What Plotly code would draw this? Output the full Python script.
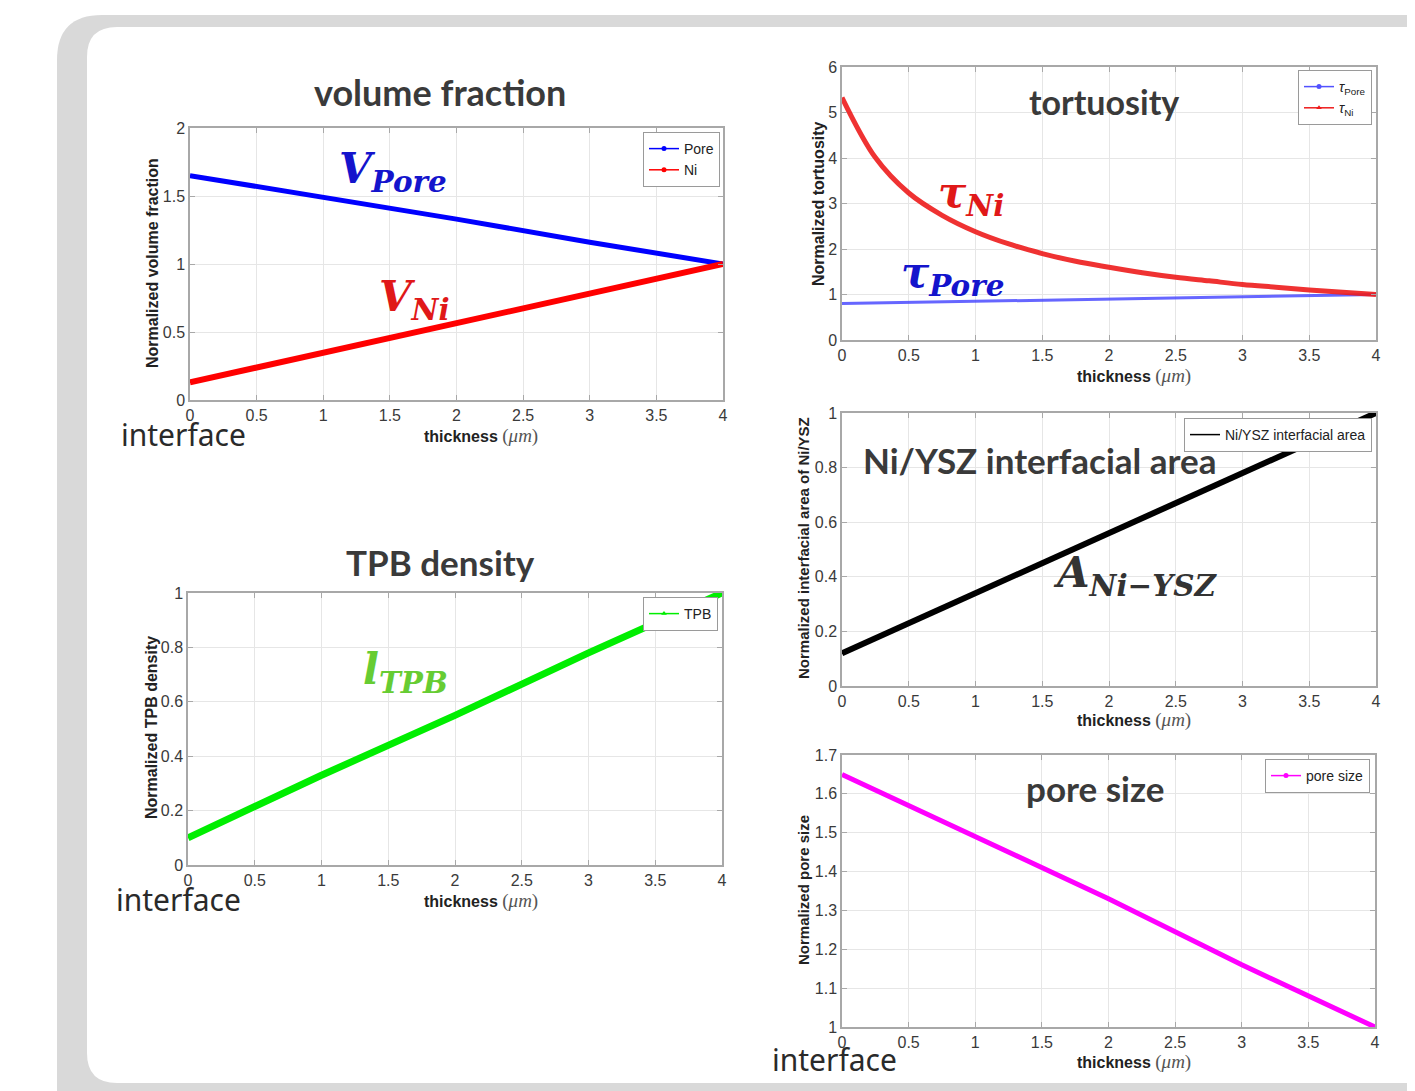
import plotly.graph_objects as go

W, H = 1415, 1091
OFF = 8  # page body margin compensation

# ---------------- data ----------------
x_lin = [0, 1, 2, 3, 4]
vf_pore = [1.65, 1.49, 1.33, 1.16, 1.0]
vf_ni = [0.13, 0.35, 0.57, 0.78, 1.0]

x_tort = [0, 0.25, 0.5, 0.75, 1, 1.25, 1.5, 1.75, 2, 2.25, 2.5, 2.75, 3, 3.25, 3.5, 3.75, 4]
tort_ni = [5.33, 4.01, 3.23, 2.74, 2.38, 2.11, 1.90, 1.73, 1.60, 1.48, 1.38, 1.30, 1.22, 1.16, 1.10, 1.05, 1.00]
tort_pore = [0.80, 0.85, 0.90, 0.95, 1.00]

tpb = [0.10, 0.33, 0.55, 0.78, 1.0]
niysz = [0.12, 0.34, 0.56, 0.78, 1.0]
pore_size = [1.65, 1.49, 1.33, 1.16, 1.0]

x_tickvals = [0, 0.5, 1, 1.5, 2, 2.5, 3, 3.5, 4]
x_ticktext = ["0", "0.5", "1", "1.5", "2", "2.5", "3", "3.5", "4"]
vf_ticks = [0, 0.5, 1, 1.5, 2]
tort_ticks = [0, 1, 2, 3, 4, 5, 6]
unit_ticks = [0, 0.2, 0.4, 0.6, 0.8, 1]
pore_ticks = [1, 1.1, 1.2, 1.3, 1.4, 1.5, 1.6, 1.7]

# ---------------- helpers ----------------
def px(x):
    return (x - OFF) / W

def py(y):
    return 1 - (y - OFF) / H

def rrect(x0, y0, x1, y1, r):
    rx, ry = r / W, r / H
    X0, X1 = px(x0), px(x1)
    Y0, Y1 = py(y0), py(y1)
    return (f"M {X0 + rx},{Y0} L {X1},{Y0} L {X1},{Y1} L {X0 + rx},{Y1} "
            f"Q {X0},{Y1} {X0},{Y1 + ry} L {X0},{Y0 - ry} Q {X0},{Y0} {X0 + rx},{Y0} Z")

def rrect_top(x0, y0, x1, y1, r):
    rx, ry = r / W, r / H
    X0, X1 = px(x0), px(x1)
    Y0, Y1 = py(y0), py(y1)
    return (f"M {X0 + rx},{Y0} L {X1},{Y0} L {X1},{Y1} L {X0},{Y1} "
            f"L {X0},{Y0 - ry} Q {X0},{Y0} {X0 + rx},{Y0} Z")

TICKFONT = dict(family="Liberation Sans, Arial", size=16, color="#3a3a3a")
LINEC = "#a8a8a8"
GRIDC = "#e6e6e6"

fig = go.Figure()

panels = {
    1: (190, 723, 128, 400),
    2: (842, 1376, 67, 340),
    3: (188, 722, 593, 865),
    4: (842, 1376, 413, 686),
    5: (842, 1375, 755, 1027),
}

def ax(i):
    return ("x" if i == 1 else f"x{i}", "y" if i == 1 else f"y{i}")

def add(i, x, y, color, width, name, symbol, legend, opacity=1.0, shape="linear"):
    xa, ya = ax(i)
    fig.add_trace(go.Scatter(
        x=x, y=y, mode="lines", name=name, showlegend=False,
        line=dict(color=color, width=width, shape=shape),
        opacity=opacity, xaxis=xa, yaxis=ya,
    ))
    # legend entry (thin line + marker, MATLAB style)
    fig.add_trace(go.Scatter(
        x=[None], y=[None], mode="lines+markers", name=name, showlegend=True,
        line=dict(color=color, width=1.5),
        marker=dict(color=color, size=5, symbol=symbol),
        opacity=min(1.0, opacity + 0.1), xaxis=xa, yaxis=ya, legend=legend,
    ))

add(1, x_lin, vf_pore, "#0000ff", 5, "Pore", "circle", "legend")
add(1, x_lin, vf_ni, "#ff0000", 6, "Ni", "circle", "legend")
add(2, x_lin, tort_pore, "#4040ff", 3, "<i>τ</i><sub>Pore</sub>", "circle", "legend2", 0.8)
add(2, x_tort, tort_ni, "#ee1c1c", 5, "<i>τ</i><sub>Ni</sub>", "triangle-up", "legend2", 0.9, "spline")
add(3, x_lin, tpb, "#00ee00", 7, "TPB", "triangle-up", "legend3")
add(4, x_lin, niysz, "#000000", 6, "Ni/YSZ interfacial area", "asterisk", "legend4")
add(5, x_lin, pore_size, "#ff00ff", 5, "pore size", "circle", "legend5")

yranges = {1: ([0, 2], vf_ticks), 2: ([0, 6], tort_ticks), 3: ([0, 1], unit_ticks),
           4: ([0, 1], unit_ticks), 5: ([1, 1.7], pore_ticks)}

layout_axes = {}
for i, (l, r, t, b) in panels.items():
    sx = "" if i == 1 else str(i)
    common = dict(
        showgrid=True, gridcolor=GRIDC, gridwidth=1,
        showline=True, linecolor=LINEC, linewidth=1.5, mirror="ticks",
        ticks="inside", ticklen=5, tickcolor=LINEC, zeroline=False,
        tickfont=TICKFONT, fixedrange=True, automargin=False,
    )
    layout_axes[f"xaxis{sx}"] = dict(
        domain=[px(l), px(r)], anchor=f"y{sx}", range=[0, 4],
        tickvals=x_tickvals, ticktext=x_ticktext, **common)
    rng, tv = yranges[i]
    layout_axes[f"yaxis{sx}"] = dict(
        domain=[py(b), py(t)], anchor=f"x{sx}", range=rng,
        tickvals=tv, ticktext=[f"{v:g}" for v in tv], **common)

def legend_cfg(xr, yt):
    return dict(
        x=px(xr), y=py(yt), xanchor="right", yanchor="top",
        bgcolor="white", bordercolor="#9a9a9a", borderwidth=1,
        font=dict(family="Liberation Sans, Arial", size=14, color="#222"),
        itemwidth=30, tracegroupgap=0, traceorder="normal",
    )

annotations = []

def ann(text, x, y, size, color, family, angle=0, **kw):
    annotations.append(dict(
        text=text, x=px(x), y=py(y), xref="paper", yref="paper",
        showarrow=False, xanchor="center", yanchor="middle",
        textangle=angle, font=dict(size=size, color=color, family=family), **kw))

TITLEF = "Lato, Open Sans, sans-serif"
ann("<b>volume fraction</b>", 440, 92, 36, "#3a3a3a", TITLEF)
ann("<b>tortuosity</b>", 1104, 102, 34, "#3a3a3a", TITLEF)
ann("<b>TPB density</b>", 440, 562, 35, "#3a3a3a", TITLEF)
ann("<b>Ni/YSZ interfacial area</b>", 1040, 460, 35, "#3a3a3a", TITLEF)
ann("<b>pore size</b>", 1095, 788, 35, "#3a3a3a", TITLEF)

IF = "Noto Sans, sans-serif"
ann("interface", 183, 434, 30, "#2a2a2a", IF)
ann("interface", 178, 899, 30, "#2a2a2a", IF)
ann("interface", 835, 1059, 30, "#2a2a2a", IF)

XT = ("<b>thickness</b> <span style='font-family:Liberation Serif;color:#555;font-size:19px'>"
      "(<i>μm</i>)</span>")
AXF = "Liberation Sans, Arial"
for (xx, yy) in [(481, 436), (1134, 376), (481, 901), (1134, 720), (1134, 1062)]:
    ann(XT, xx, yy, 16, "#222222", AXF)

ann("<b>Normalized volume fraction</b>", 152, 263, 16, "#222222", AXF, -90)
ann("<b>Normalized tortuosity</b>", 818, 203, 16, "#222222", AXF, -90)
ann("<b>Normalized TPB density</b>", 151, 728, 16, "#222222", AXF, -90)
ann("<b>Normalized interfacial area of Ni/YSZ</b>", 803, 548, 15, "#222222", AXF, -90)
ann("<b>Normalized pore size</b>", 803, 890, 15, "#222222", AXF, -90)

MF = "DejaVu Serif, serif"
ann("<b><i>V</i></b><sub><b><i>Pore</i></b></sub>", 393, 172, 42, "#1414cc", MF)
ann("<b><i>V</i></b><sub><b><i>Ni</i></b></sub>", 414, 300, 42, "#e01818", MF)
ann("<b><i>τ</i></b><sub><b><i>Ni</i></b></sub>", 971, 195, 42, "#e01818", MF)
ann("<b><i>τ</i></b><sub><b><i>Pore</i></b></sub>", 952, 275, 42, "#1414cc", MF)
ann("<b><i>A</i></b><sub><b><i>Ni−YSZ</i></b></sub>", 1135, 575, 42, "#333333", MF)
ann("<b><i>l</i></b><sub><b><i>TPB</i></b></sub>", 406, 672, 42, "#66cc33", MF)

shapes = [
    dict(type="path", xref="paper", yref="paper", layer="below",
         path=rrect_top(57, 15, 1440, 1110, 45), fillcolor="#d9d9d9", line=dict(width=0)),
    dict(type="path", xref="paper", yref="paper", layer="below",
         path=rrect(87, 27, 1440, 1083, 30), fillcolor="#ffffff", line=dict(width=0)),
]

fig.update_layout(
    width=W, height=H,
    margin=dict(l=0, r=0, t=0, b=0, pad=0, autoexpand=False),
    paper_bgcolor="white", plot_bgcolor="rgba(0,0,0,0)",
    showlegend=True,
    legend=legend_cfg(720, 132),
    legend2=legend_cfg(1372, 70),
    legend3=legend_cfg(718, 597),
    legend4=legend_cfg(1372, 418),
    legend5=legend_cfg(1370, 759),
    annotations=annotations,
    shapes=shapes,
    **layout_axes,
)

fig.write_html("out.html")
